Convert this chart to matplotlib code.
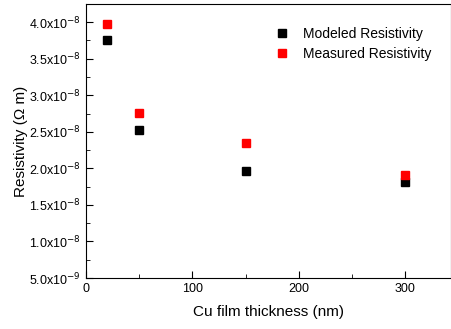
import matplotlib
matplotlib.use("Agg")
import matplotlib.pyplot as plt
from matplotlib.ticker import FuncFormatter, MultipleLocator

plt.rcParams['font.family'] = ['Liberation Sans', 'DejaVu Sans']

# data
thickness = [20, 50, 150, 300]
modeled = [3.75e-8, 2.52e-8, 1.96e-8, 1.81e-8]
measured = [3.97e-8, 2.76e-8, 2.35e-8, 1.91e-8]


def sci_fmt(v, pos):
    m, e = "{:.1e}".format(v).split("e")
    return r"%sx10$^{%d}$" % (m, int(e))


fig = plt.figure(figsize=(4.52, 3.29), dpi=100)
ax = fig.add_axes([0.190, 0.155, 0.808, 0.833])

ax.plot(thickness, modeled, 's', color='black', markersize=5.8, label='Modeled Resistivity')
ax.plot(thickness, measured, 's', color='red', markersize=5.8, label='Measured Resistivity')

ax.set_xlim(0, 343)
ax.set_ylim(5e-9, 4.25e-8)
ax.xaxis.set_major_locator(MultipleLocator(100))
ax.xaxis.set_minor_locator(MultipleLocator(50))
ax.yaxis.set_major_locator(MultipleLocator(5e-9))
ax.yaxis.set_minor_locator(MultipleLocator(2.5e-9))
ax.yaxis.set_major_formatter(FuncFormatter(sci_fmt))
ax.tick_params(which='both', direction='in', labelsize=9)
ax.tick_params(which='major', length=5)
ax.tick_params(which='minor', length=3)

ax.set_xlabel('Cu film thickness (nm)', fontsize=11, labelpad=7)
ax.set_ylabel(u'Resistivity (\u03a9 m)', fontsize=11, labelpad=1)

ax.legend(loc='upper right', bbox_to_anchor=(0.96, 0.935), frameon=False,
          fontsize=10, handlelength=1.0, handletextpad=1.0, labelspacing=0.4,
          borderaxespad=0.0)

fig.savefig('out.png', dpi=100)
